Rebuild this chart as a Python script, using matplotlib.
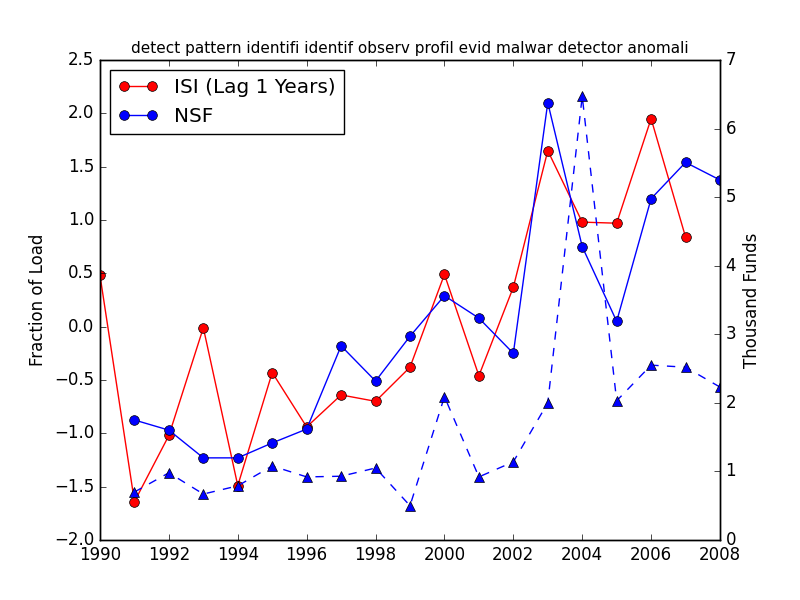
import matplotlib
matplotlib.use("Agg")
import matplotlib.pyplot as plt

plt.style.use("classic")

years_isi = list(range(1990, 2008))
isi = [0.48, -1.64, -1.02, -0.01, -1.49, -0.43, -0.94, -0.64, -0.70, -0.38,
       0.49, -0.46, 0.37, 1.65, 0.98, 0.97, 1.95, 0.84]

years_nsf = list(range(1991, 2009))
nsf = [-0.875, -0.97, -1.23, -1.23, -1.09, -0.96, -0.18, -0.51, -0.09, 0.29,
       0.08, -0.25, 2.10, 0.75, 0.05, 1.20, 1.54, 1.375]

funds = [0.70, 0.98, 0.67, 0.79, 1.08, 0.92, 0.93, 1.05, 0.50, 2.09,
         0.92, 1.14, 2.00, 6.47, 2.03, 2.55, 2.52, 2.23]

fig, ax = plt.subplots(figsize=(8, 6), dpi=100)
ax.plot(years_isi, isi, "r-o", label="ISI (Lag 1 Years)", markersize=7)
ax.plot(years_nsf, nsf, "b-o", label="NSF", markersize=7)
ax.set_ylim(-2.0, 2.5)
ax.set_xlim(1990, 2008)
ax.ticklabel_format(axis="x", useOffset=False)
ax.set_ylabel("Fraction of Load")
ax.set_title("detect pattern identifi identif observ profil evid malwar detector anomali", fontsize=11)
ax.legend(loc="upper left")

bx = ax.twinx()
bx.plot(years_nsf, funds, "b--^", markersize=7)
bx.set_ylim(0, 7)
bx.set_xlim(1990, 2008)
bx.ticklabel_format(axis="x", useOffset=False)
bx.set_ylabel("Thousand Funds")

fig.savefig("out.png")
